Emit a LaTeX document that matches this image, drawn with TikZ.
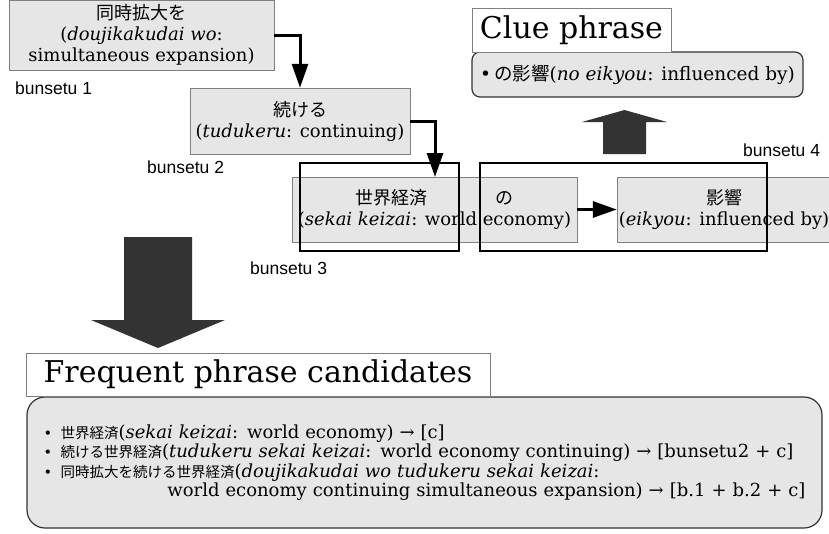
\documentclass[tikz,border=0pt]{standalone}
\usepackage{fontspec}
\setmainfont{DejaVu Serif}
\newfontfamily\jp{Noto Sans CJK JP}
\newfontfamily\lab{Liberation Sans}
\usetikzlibrary{arrows.meta}
\definecolor{boxgray}{HTML}{E6E6E6}
\definecolor{edgegray}{HTML}{808080}
\definecolor{arrowgray}{HTML}{333333}
\def\downpiece{-- ++(68,0) -- ++(0,83) -- ++(33,0) -- ++(-67,28) -- ++(-67,-28) -- ++(33,0) -- cycle}
\def\uppiece{-- ++(43,0) -- ++(0,-32) -- ++(21,0) -- ++(-42.5,-12) -- ++(-42.5,12) -- ++(21,0) -- cycle}
\def\pt{\makebox[17pt][l]{\fontsize{14.5}{19.5}\selectfont •}}
\def\jl#1{{\jp\fontsize{14.5}{19.5}\selectfont #1}}
\tikzset{
  bunsetubox/.style={draw=edgegray,fill=boxgray,inner sep=0pt,align=center,font=\fontsize{18}{21}\selectfont},
  unitframe/.style={draw,line width=2.5pt,inner sep=0pt},
  tagtext/.style={font=\lab\fontsize{17.5}{20}\selectfont,inner sep=0pt,anchor=west},
  flow/.style={line width=3pt,-{Triangle[length=24pt,width=16pt]}},
  headbox/.style={draw=edgegray,fill=white,inner sep=0pt,font=\fontsize{30}{34}\selectfont},
  listbox/.style={draw=arrowgray,fill=boxgray,line width=1.2pt,inner sep=0pt}
}

\begin{document}
\begin{tikzpicture}[x=1pt,y=-1pt]
                \useasboundingbox (0,0) rectangle (829,533);
                \clip (0,0) rectangle (829,533);
                \node[bunsetubox,minimum width=265pt,minimum height=70pt] (b1) at (141.5,35)
                    {{\jp 同時拡大を}\\(\textit{doujikakudai wo}:\\simultaneous expansion)};
                \node[bunsetubox,minimum width=220pt,minimum height=66pt] (b2) at (300,121)
                    {{\jp 続ける}\\(\textit{tudukeru}: continuing)};
                \node[bunsetubox,minimum width=285pt,minimum height=65pt] (s1) at (434.5,209.5)
                    {{\jp 世界経済}\hspace{68pt}{\jp の}\\(\textit{sekai keizai}: world economy)};
                \node[bunsetubox,minimum width=214pt,minimum height=65pt] (s2) at (724,209.5)
                    {{\jp 影響}\\(\textit{eikyou}: influenced by)};
                \node[unitframe,minimum width=159pt,minimum height=88pt] (u3) at (379.5,207) {};
                \node[unitframe,minimum width=287pt,minimum height=88pt] (u4) at (623.5,207) {};
                \node[tagtext] (t1) at (15,88) {bunsetu 1};
                \node[tagtext] (t2) at (147,167) {bunsetu 2};
                \node[tagtext] (t3) at (250,268) {bunsetu 3};
                \node[tagtext] (t4) at (743,150) {bunsetu 4};
                \coordinate (drop) at (435,177);
                \draw[flow] (b1.east) -| (b2.north);
                \draw[flow] (b2.east) -| (drop);
                \draw[flow] (s1.east) -- (s2.west);
                \node[listbox,minimum width=331pt,minimum height=45pt,rounded corners=8pt] (clue) at (637.5,74.5)
                    {\fontsize{18.5}{22}\selectfont •\,{\jp の影響}(\textit{no eikyou}: influenced by)};
                \node[headbox,minimum width=199pt,minimum height=44pt] (cluehead) at (571.5,30) {Clue phrase};
                \fill[arrowgray] (603,154) \uppiece;
                \fill[arrowgray] (124,237) \downpiece;
                \node[listbox,minimum width=795pt,minimum height=131pt,rounded corners=18pt,
                      text width=762pt,align=left,font=\fontsize{18}{19.5}\selectfont] (freq) at (424.5,462.5)
                    {\pt\jl{世界経済}(\textit{sekai keizai}: world economy) → [c]\\
                     \pt\jl{続ける世界経済}(\textit{tudukeru sekai keizai}: world economy continuing) → [bunsetu2 + c]\\
                     \pt\jl{同時拡大を続ける世界経済}(\textit{doujikakudai wo tudukeru sekai keizai}:\\
                     \makebox[762pt][r]{world economy continuing simultaneous expansion) → [b.1 + b.2 + c]}};
                \node[headbox,minimum width=464pt,minimum height=43pt] (freqhead) at (258,374.5) {Frequent phrase candidates};
            \end{tikzpicture}
\end{document}
